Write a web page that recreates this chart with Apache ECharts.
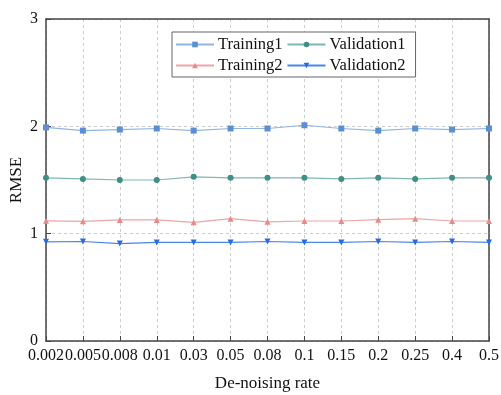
<!DOCTYPE html>
<html><head><meta charset="utf-8">
<script src="https://cdn.jsdelivr.net/npm/echarts@6/dist/echarts.min.js"></script>
<style>html,body{margin:0;padding:0;background:#fff}#c{width:501px;height:395px}</style>
</head><body><div id="c"></div>
<script>
const categories = ['0.002','0.005','0.008','0.01','0.03','0.05','0.08','0.1','0.15','0.2','0.25','0.4','0.5'];
const training1 = [1.99,1.96,1.97,1.98,1.96,1.98,1.98,2.01,1.98,1.96,1.98,1.97,1.98];
const validation1 = [1.52,1.51,1.50,1.50,1.53,1.52,1.52,1.52,1.51,1.52,1.51,1.52,1.52];
const training2 = [1.12,1.115,1.128,1.128,1.106,1.14,1.11,1.118,1.118,1.13,1.14,1.118,1.118];
const validation2 = [0.924,0.927,0.908,0.918,0.918,0.918,0.927,0.918,0.918,0.927,0.918,0.927,0.918];
const yTicks = [0,1,2,3];

const font = 'Liberation Serif';
const chart = echarts.init(document.getElementById('c'));
function s(name, data, color, lineColor, symbol, rot){
  return {name, type:'line', data, symbol, symbolSize: 6, symbolRotate: rot||0,
    itemStyle:{color}, lineStyle:{color:lineColor, width:1.2}, z: 3};
}
const borderAxis = {axisLine:{show:true,onZero:false,lineStyle:{color:'#444',width:1.5}},
  axisTick:{show:false},axisLabel:{show:false},splitLine:{show:false}};
chart.setOption({
  animation:false,
  textStyle:{fontFamily:font},
  grid:{left:46,right:12,top:19,bottom:54,containLabel:false,outerBoundsMode:'none'},
  legend:{left:172,top:32,width:240,itemWidth:38,itemHeight:7,itemGap:4,padding:[4,10,3,3],
    borderColor:'#666',borderWidth:1,backgroundColor:'#fff',
    textStyle:{fontFamily:font,fontSize:16.5,color:'#111',padding:[0,0,0,-1]},
    data:['Training1','Validation1','Training2','Validation2']},
  xAxis:[{type:'category',data:categories,boundaryGap:false,
    name:'De-noising rate',nameLocation:'middle',nameGap:34,nameMoveOverlap:false,
    nameTextStyle:{fontFamily:font,fontSize:17,color:'#111'},
    axisLine:{lineStyle:{color:'#444',width:1.5}},
    axisTick:{inside:true,length:5,lineStyle:{color:'#444'}},
    axisLabel:{interval:0,margin:7,fontFamily:font,fontSize:16,color:'#111'},
    splitLine:{show:true,lineStyle:{type:[3,3],color:'#ccc'}}},
    Object.assign({type:'category',data:categories,boundaryGap:false,position:'top'},borderAxis)],
  yAxis:[{type:'value',min:yTicks[0],max:yTicks[yTicks.length-1],interval:1,
    name:'RMSE',nameLocation:'middle',nameGap:21,nameMoveOverlap:false,
    nameTextStyle:{fontFamily:font,fontSize:17,color:'#111'},
    axisLine:{show:true,lineStyle:{color:'#444',width:1.5}},
    axisTick:{show:true,inside:true,length:5,lineStyle:{color:'#444'}},
    axisLabel:{margin:8,fontFamily:font,fontSize:16,color:'#111'},
    splitLine:{show:true,lineStyle:{type:[3,3],color:'#ccc'}}},
    Object.assign({type:'value',min:yTicks[0],max:yTicks[yTicks.length-1],interval:1,position:'right'},borderAxis)],
  series:[
    s('Training1',training1,'#5b8fd2','#8fb5e6','rect'),
    s('Validation1',validation1,'#3f8f86','#7fb8b0','circle'),
    s('Training2',training2,'#e88a8a','#eda5a5','triangle'),
    s('Validation2',validation2,'#2a6ae0','#4a85e8','triangle',180)
  ]
});
</script></body></html>
